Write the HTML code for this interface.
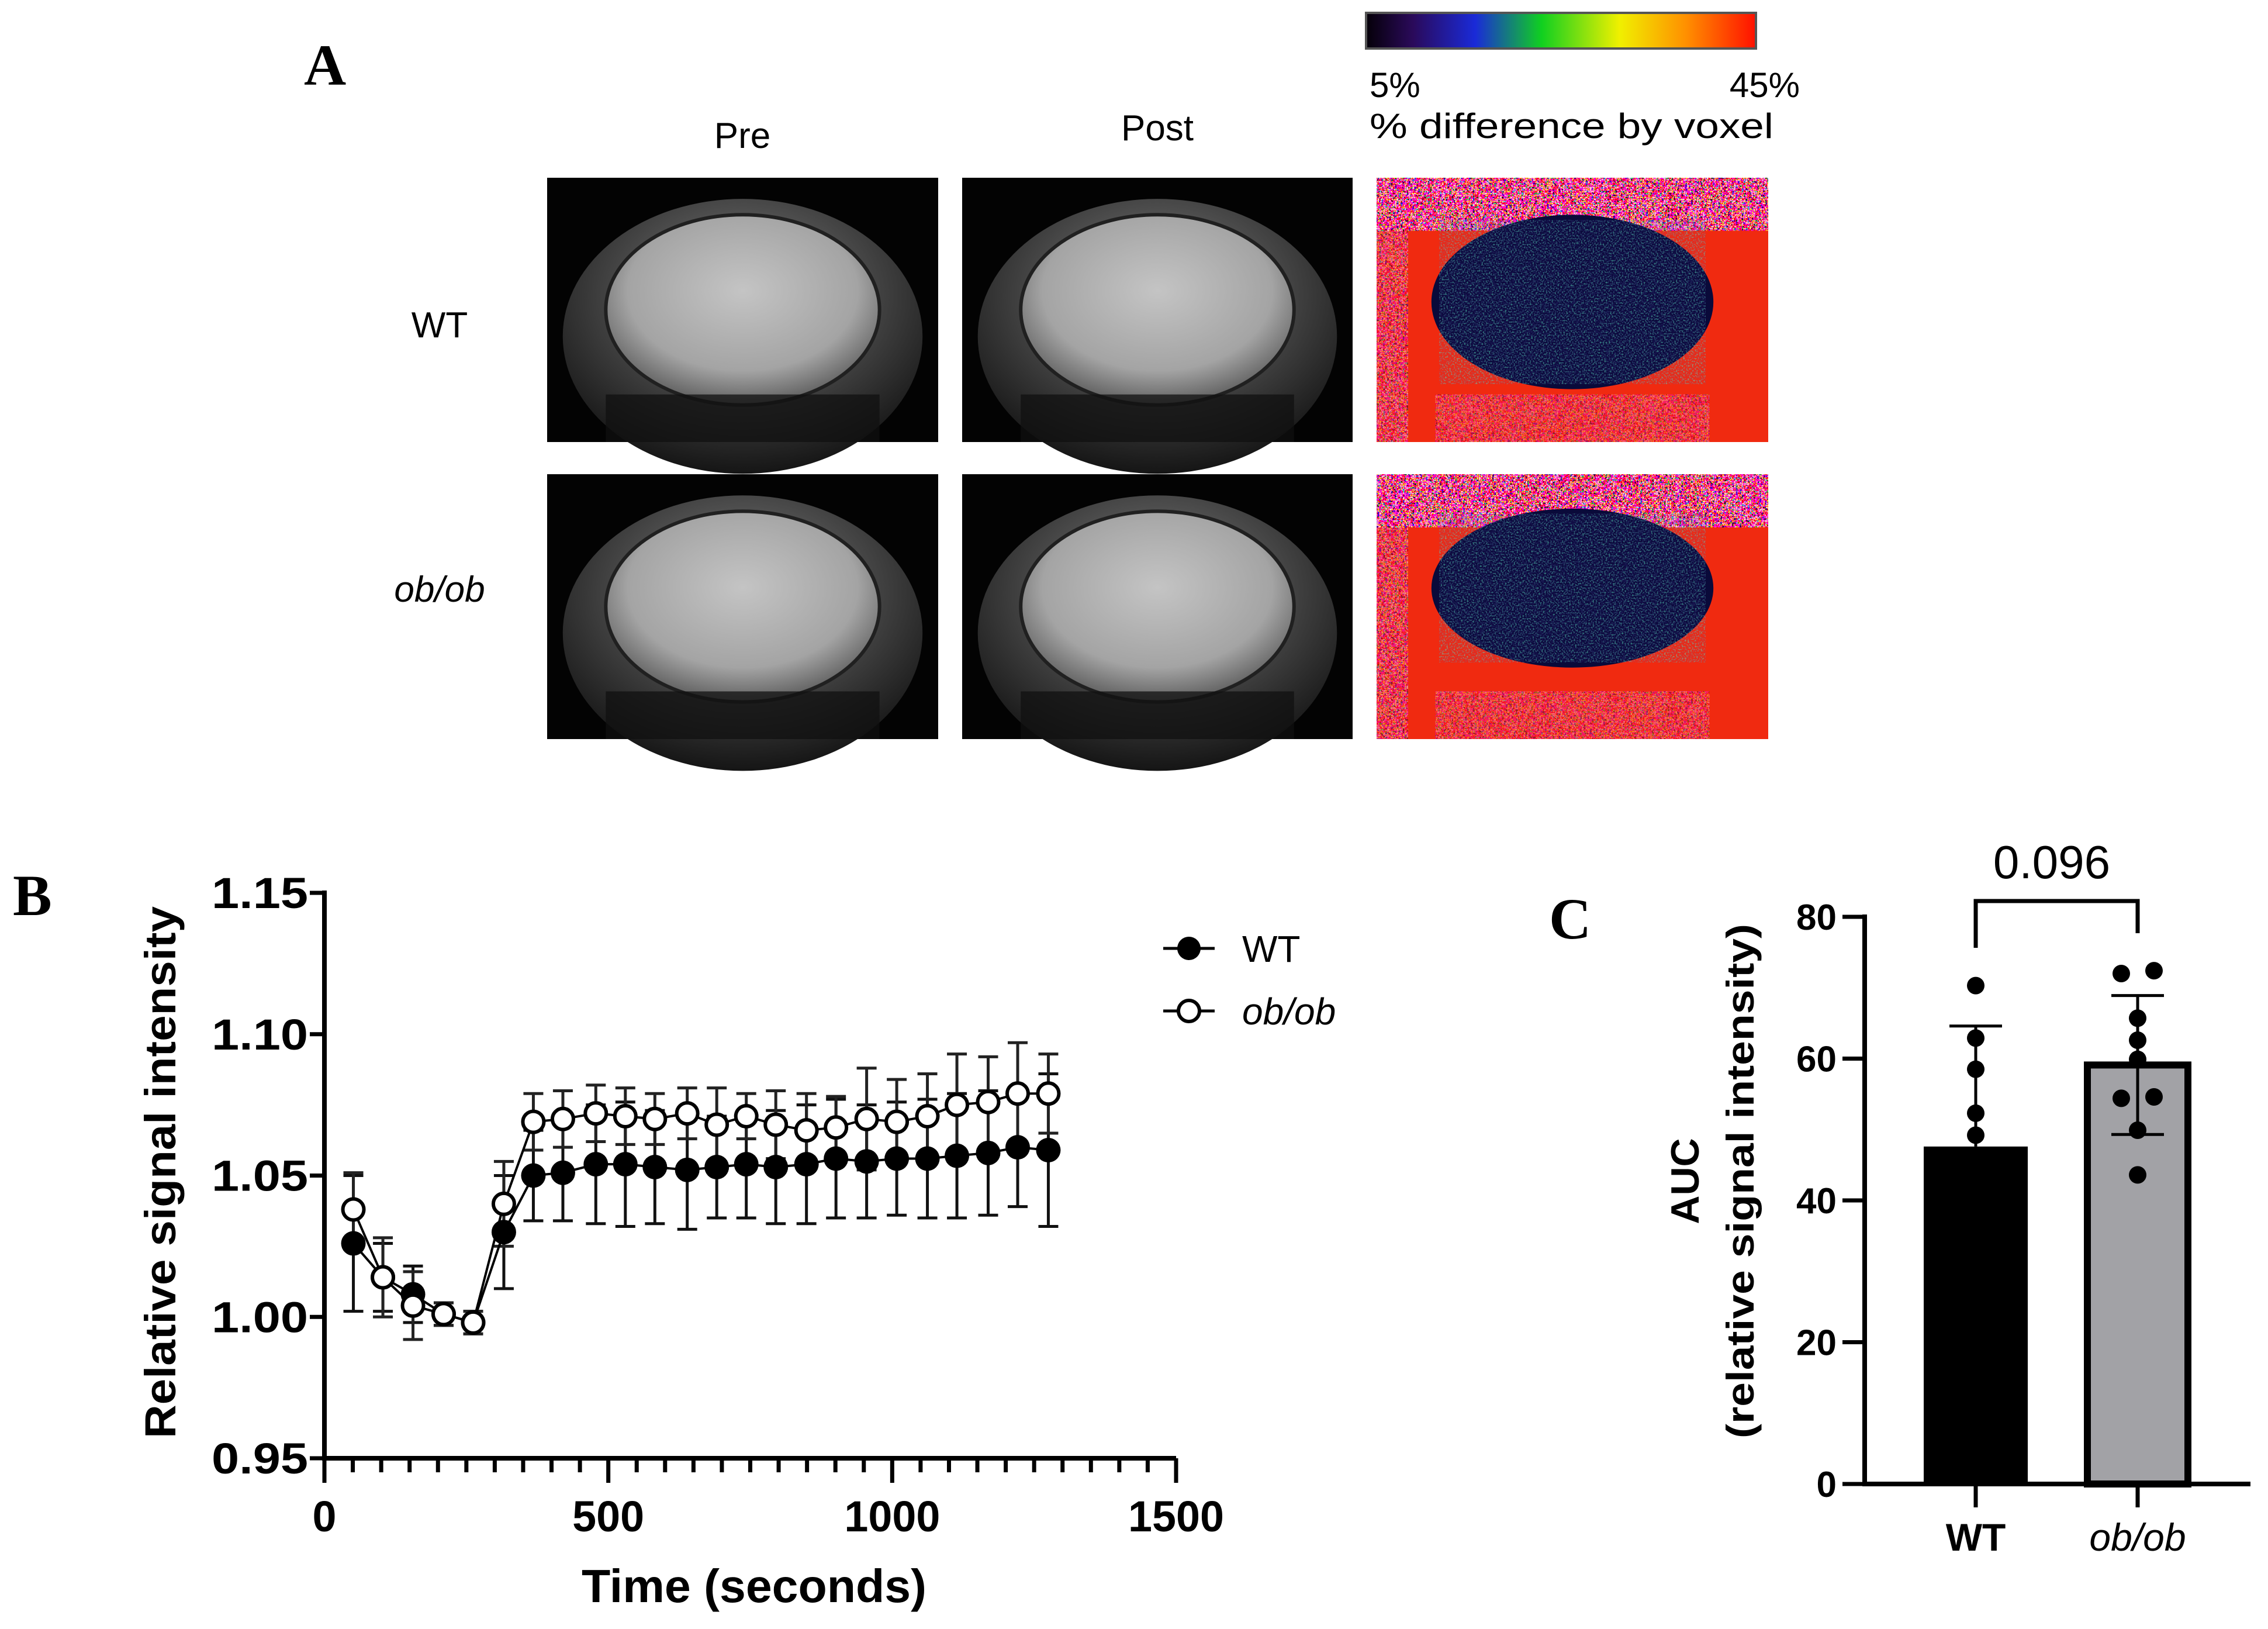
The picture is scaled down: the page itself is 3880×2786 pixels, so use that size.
<!DOCTYPE html>
<html><head><meta charset="utf-8"><style>
html,body{margin:0;padding:0;background:#fff;}
svg{display:block;font-family:"Liberation Sans",sans-serif;}
</style></head><body>
<svg id="fig" width="3880" height="2786" viewBox="0 0 3880 2786" xmlns="http://www.w3.org/2000/svg">
<defs>
<linearGradient id="cbar" x1="0" x2="1" y1="0" y2="0">
<stop offset="0" stop-color="#050008"/><stop offset="0.12" stop-color="#2a0a5a"/><stop offset="0.28" stop-color="#1a2ad8"/><stop offset="0.45" stop-color="#10d020"/><stop offset="0.65" stop-color="#f0f000"/><stop offset="0.82" stop-color="#ff9000"/><stop offset="1" stop-color="#ff1000"/>
</linearGradient>
<radialGradient id="brain" cx="0.5" cy="0.4" r="0.6"><stop offset="0" stop-color="#c4c4c4"/><stop offset="0.7" stop-color="#a4a4a4"/><stop offset="1" stop-color="#606060"/></radialGradient>
<radialGradient id="head" cx="0.5" cy="0.35" r="0.65"><stop offset="0" stop-color="#808080"/><stop offset="1" stop-color="#151515"/></radialGradient>
<filter id="noise" x="0" y="0" width="100%" height="100%"><feTurbulence type="fractalNoise" baseFrequency="0.3" numOctaves="1" seed="3"/><feComponentTransfer><feFuncR type="discrete" tableValues="0 0 1 1 1"/><feFuncG type="discrete" tableValues="0 1 0 1 0"/><feFuncB type="discrete" tableValues="0 0 1 0 0"/><feFuncA type="discrete" tableValues="1 1"/></feComponentTransfer></filter>
<filter id="noise2" x="0" y="0" width="100%" height="100%"><feTurbulence type="fractalNoise" baseFrequency="0.4" numOctaves="1" seed="7"/><feColorMatrix type="matrix" values="0 0 0 0 0.1  3 0 0 0 -1.4  0 0 0 0 0.5  3 0 0 0 -1.2"/></filter>
</defs>

<!-- Panel A -->
<text x="520" y="145" font-family="Liberation Serif,serif" font-weight="bold" font-size="100">A</text>
<text x="1270" y="253" text-anchor="middle" font-size="62">Pre</text>
<text x="1980" y="240" text-anchor="middle" font-size="62">Post</text>
<text x="752" y="577" text-anchor="middle" font-size="62">WT</text>
<text x="752" y="1029" text-anchor="middle" font-size="62" font-style="italic">ob/ob</text>
<rect x="2337" y="22" width="667" height="61" fill="url(#cbar)" stroke="#555" stroke-width="4"/>
<text x="2343" y="166" font-size="60">5%</text>
<text x="3079" y="166" text-anchor="end" font-size="60">45%</text>
<text x="2343" y="236" font-size="60" textLength="691" lengthAdjust="spacingAndGlyphs">% difference by voxel</text>
<g id="images"></g>

<!-- Panel B -->
<text x="22" y="1565" font-family="Liberation Serif,serif" font-weight="bold" font-size="100">B</text>
<g id="chartB"></g>

<!-- Panel C -->
<text x="2650" y="1605" font-family="Liberation Serif,serif" font-weight="bold" font-size="100">C</text>
<g id="chartC"></g>
</svg>
<script>
// ---------- Panel B data ----------
const times = [51,103,156,210,262,316,368,420,478,530,582,639,691,743,795,849,901,955,1008,1062,1114,1169,1221,1275];
const wtMean = [1.026,1.014,1.008,1.001,0.998,1.030,1.050,1.051,1.054,1.054,1.053,1.052,1.053,1.054,1.053,1.054,1.056,1.055,1.056,1.056,1.057,1.058,1.060,1.059];
const wtErr  = [0.024,0.012,0.010,0.004,0.004,0.020,0.016,0.017,0.021,0.022,0.020,0.021,0.018,0.019,0.020,0.021,0.021,0.020,0.020,0.021,0.022,0.022,0.021,0.027];
const obMean = [1.038,1.014,1.004,1.001,0.998,1.040,1.069,1.070,1.072,1.071,1.070,1.072,1.068,1.071,1.068,1.066,1.067,1.070,1.069,1.071,1.075,1.076,1.079,1.079];
const obErr  = [0.013,0.014,0.012,0.004,0.004,0.015,0.010,0.010,0.010,0.010,0.009,0.009,0.013,0.008,0.012,0.013,0.011,0.018,0.015,0.015,0.018,0.016,0.018,0.014];
const bYTicks = [0.95,1.00,1.05,1.10,1.15];
const bYTickLabels = ["0.95","1.00","1.05","1.10","1.15"];
const bXTicks = [0,500,1000,1500];
const bXTickLabels = ["0","500","1000","1500"];
// ---------- Panel C data ----------
const groups = ["WT","ob/ob"];
const barMeans = [47.6,59.1];
const barSD = [17.0,9.8];
const wtDots = [70.3,62.9,58.5,52.3,49.2];
const obDots = [72.0,72.4,65.7,62.6,59.9,54.4,54.6,49.9,43.6];
const cYTicks = [0,20,40,60,80];
const cYTickLabels = ["0","20","40","60","80"];
const pText = "0.096";

const NS="http://www.w3.org/2000/svg";
function mk(tag,attrs,parent){const e=document.createElementNS(NS,tag);for(const k in attrs)e.setAttribute(k,attrs[k]);parent.appendChild(e);return e;}

// ---------- MRI images ----------
(function(){
  const g=document.getElementById('images');
  const cols=[[936,669],[1646,668],[2355,670]];
  const rows=[[304,452],[811,453]];
  rows.forEach((r,ri)=>{cols.forEach((c,ci)=>{
    const [x,w]=c,[y,h]=r;
    if(ci<2){
      const bg=mk('rect',{x:x,y:y,width:w,height:h,fill:'#030303'},g);
      
      
      const hd=mk('ellipse',{cx:x+w/2,cy:y+h*0.6,rx:w*0.46,ry:h*0.52,fill:'url(#head)'},g);
      
      
      const br=mk('ellipse',{cx:x+w/2,cy:y+h*0.5,rx:w*0.35,ry:h*0.36,fill:'url(#brain)',stroke:'#202020','stroke-width':6},g);
      
      
      const lo=mk('rect',{x:x+w*0.15,y:y+h*0.82,width:w*0.7,height:h*0.18,fill:'#101010',opacity:0.75},g);
      
      
    } else {
      const bg=mk('rect',{x:x,y:y,width:w,height:h,fill:'#f02a10'},g);
      
      
      const nz=mk('rect',{x:x,y:y,width:w,height:h*0.2,filter:'url(#noise)',opacity:0.8},g);
      
      
      const nz2=mk('rect',{x:x,y:y+h*0.2,width:w*0.08,height:h*0.8,filter:'url(#noise)',opacity:0.45},g);
      
      
      const nz3=mk('rect',{x:x+w*0.15,y:y+h*0.82,width:w*0.7,height:h*0.18,filter:'url(#noise)',opacity:0.35},g);
      
      
      const br=mk('ellipse',{cx:x+w*0.5,cy:y+h*(ri?0.43:0.47),rx:w*0.36,ry:h*(ri?0.3:0.33),fill:'#0a0a3a'},g);
      
      
      const sp=mk('ellipse',{cx:x+w*0.5,cy:y+h*(ri?0.43:0.47),rx:w*0.34,ry:h*(ri?0.28:0.31),filter:'url(#noise2)',opacity:0.5},g);
      
      
    }
  });});
})();

// ---------- Chart B ----------
(function(){
  const g=document.getElementById('chartB');
  const X0=555,X1=2012,Y0=2494,Y1=1527;
  const xs=t=>X0+t/1500*(X1-X0);
  const ys=v=>Y0-(v-0.95)/0.2*(Y0-Y1);
  const ax=mk('path',{d:`M${X0} ${Y1-4} V${Y0} H${X1}`,fill:'none',stroke:'#000','stroke-width':8},g);
  
  
  bYTicks.forEach((v,i)=>{
    const t=mk('line',{x1:X0-25,x2:X0,y1:ys(v),y2:ys(v),stroke:'#000','stroke-width':7},g);
    
    
    const l=mk('text',{x:X0-28,y:ys(v)+26,'text-anchor':'end','font-size':74,'font-weight':'bold',textLength:165,lengthAdjust:'spacingAndGlyphs'},g);
    l.textContent=bYTickLabels[i];
    
    
  });
  for(let t=0;t<=1500;t+=50){
    const major=bXTicks.includes(t);
    const tk=mk('line',{x1:xs(t),x2:xs(t),y1:Y0,y2:Y0+(major?42:24),stroke:'#000','stroke-width':7},g);
    
    
  }
  bXTicks.forEach((t,i)=>{
    const l=mk('text',{x:xs(t),y:Y0+125,'text-anchor':'middle','font-size':74,'font-weight':'bold',textLength:bXTickLabels[i].length*41,lengthAdjust:'spacingAndGlyphs'},g);
    l.textContent=bXTickLabels[i];
    
    
  });
  const xt=mk('text',{x:1290,y:2740,'text-anchor':'middle','font-size':80,'font-weight':'bold',textLength:590,lengthAdjust:'spacingAndGlyphs'},g);
  xt.textContent='Time (seconds)';
  
  
  const yt=mk('text',{x:0,y:0,'text-anchor':'middle','font-size':74,'font-weight':'bold',transform:'translate(300,2005) rotate(-90)',textLength:910,lengthAdjust:'spacingAndGlyphs'},g);
  yt.textContent='Relative signal intensity';
  
  
  function errs(mean,err,col,name){
    times.forEach((t,i)=>{
      const x=xs(t),a=ys(mean[i]+err[i]),b=ys(mean[i]-err[i]);
      const e=mk('path',{d:`M${x} ${a} V${b} M${x-17} ${a} H${x+17} M${x-17} ${b} H${x+17}`,stroke:col,'stroke-width':5,fill:'none'},g);
      
      
    });
  }
  errs(wtMean,wtErr,'#111','wt-error-bar');
  errs(obMean,obErr,'#222','obob-error-bar');
  function line(mean,name){
    const p=mk('polyline',{points:times.map((t,i)=>xs(t)+','+ys(mean[i])).join(' '),fill:'none',stroke:'#000','stroke-width':4},g);
    
    
  }
  line(obMean,'obob-line');
  line(wtMean,'wt-line');
  times.forEach((t,i)=>{
    const c=mk('circle',{cx:xs(t),cy:ys(wtMean[i]),r:21,fill:'#000'},g);
    
    
  });
  times.forEach((t,i)=>{
    const c=mk('circle',{cx:xs(t),cy:ys(obMean[i]),r:18,fill:'#fff',stroke:'#000','stroke-width':6},g);
    
    
  });
  const l1=mk('line',{x1:1990,x2:2078,y1:1622,y2:1622,stroke:'#000','stroke-width':5},g);
  
  
  const m1=mk('circle',{cx:2034,cy:1622,r:20,fill:'#000'},g);
  
  
  const t1=mk('text',{x:2125,y:1645,'font-size':64},g);
  t1.textContent='WT';
  
  
  const l2=mk('line',{x1:1990,x2:2078,y1:1729,y2:1729,stroke:'#000','stroke-width':5},g);
  
  
  const m2=mk('circle',{cx:2034,cy:1729,r:18,fill:'#fff',stroke:'#000','stroke-width':6},g);
  
  
  const t2=mk('text',{x:2125,y:1752,'font-size':64,'font-style':'italic'},g);
  t2.textContent='ob/ob';
  
  
})();

// ---------- Chart C ----------
(function(){
  const g=document.getElementById('chartC');
  const AX=3190,Y0=2538,Y1=1568;
  const ys=v=>Y0-v/80*(Y0-Y1);
  const centers=[3380,3657];
  const halfW=[89,86];
  const fills=['#000','#a2a2a6'];
  groups.forEach((gname,i)=>{
    const b=mk('rect',{x:centers[i]-halfW[i],y:ys(barMeans[i]),width:halfW[i]*2,height:Y0-ys(barMeans[i]),fill:fills[i],stroke:'#000','stroke-width':i?12:0},g);
    
    
  });
  groups.forEach((gname,i)=>{
    const x=centers[i],a=ys(barMeans[i]+barSD[i]),b=ys(Math.max(0,barMeans[i]-barSD[i]));
    const d=i?`M${x} ${a} V${b} M${x-45} ${a} H${x+45} M${x-45} ${b} H${x+45}`:`M${x} ${a} V${ys(barMeans[i])} M${x-45} ${a} H${x+45}`;
    const e=mk('path',{d:d,stroke:'#000','stroke-width':5,fill:'none'},g);
    
    
  });
  wtDots.forEach((v,i)=>{
    const c=mk('circle',{cx:centers[0],cy:ys(v),r:15,fill:'#000'},g);
    
    
  });
  const obJ=[-28,28,0,0,0,-28,28,0,0];
  obDots.forEach((v,i)=>{
    const c=mk('circle',{cx:centers[1]+obJ[i],cy:ys(v),r:15,fill:'#000'},g);
    
    
  });
  const ax=mk('path',{d:`M${AX} ${Y1-4} V${Y0} H3850`,fill:'none',stroke:'#000','stroke-width':8},g);
  
  
  cYTicks.forEach((v,i)=>{
    const t=mk('line',{x1:AX-38,x2:AX,y1:ys(v),y2:ys(v),stroke:'#000','stroke-width':7},g);
    
    
    const l=mk('text',{x:AX-48,y:ys(v)+22,'text-anchor':'end','font-size':62,'font-weight':'bold'},g);
    l.textContent=cYTickLabels[i];
    
    
  });
  groups.forEach((gname,i)=>{
    const t=mk('line',{x1:centers[i],x2:centers[i],y1:Y0,y2:Y0+40,stroke:'#000','stroke-width':7},g);
    
    
    const l=mk('text',{x:centers[i],y:2652,'text-anchor':'middle','font-size':66,'font-weight':i?'normal':'bold','font-style':i?'italic':'normal'},g);
    l.textContent=gname;
    
    
  });
  const br=mk('path',{d:`M${centers[0]} 1621 V1541 H${centers[1]} V1596`,fill:'none',stroke:'#000','stroke-width':7},g);
  
  
  const p=mk('text',{x:3510,y:1502,'text-anchor':'middle','font-size':80},g);
  p.textContent=pText;
  
  
  const t1=mk('text',{x:0,y:0,'text-anchor':'middle','font-size':68,'font-weight':'bold',transform:'translate(2906,2020) rotate(-90)'},g);
  t1.textContent='AUC';
  
  
  const t2=mk('text',{x:0,y:0,'text-anchor':'middle','font-size':66,'font-weight':'bold',transform:'translate(3000,2020) rotate(-90)',textLength:880,lengthAdjust:'spacingAndGlyphs'},g);
  t2.textContent='(relative signal intensity)';
  
  
})();
</script>
</body></html>
